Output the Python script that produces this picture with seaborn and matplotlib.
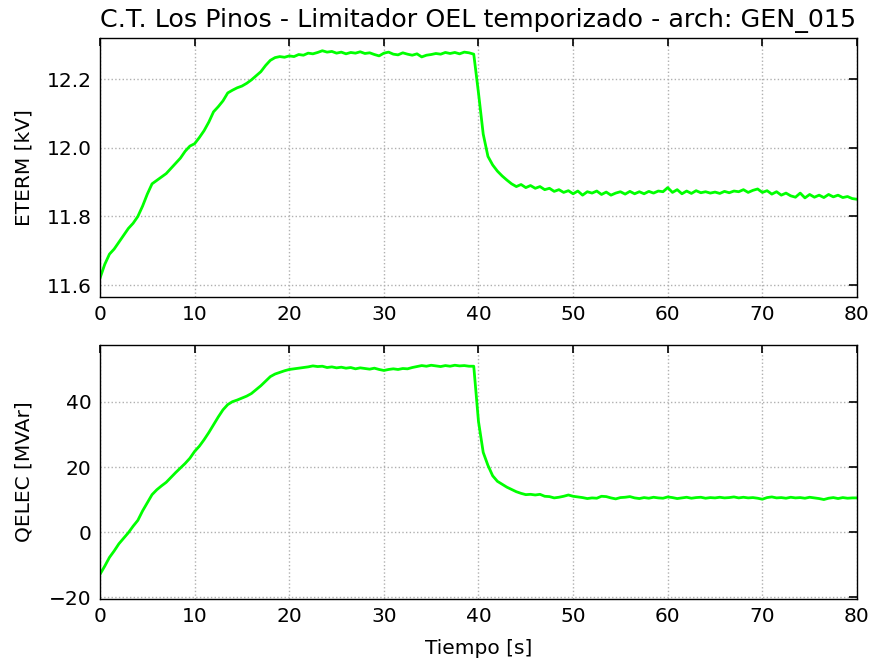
import numpy as np
import pandas as pd
import matplotlib
matplotlib.use("Agg")
import matplotlib.pyplot as plt
import seaborn as sns

# time base (s), 0.5 s sampling
tiempo = [i * 0.5 for i in range(161)]

eterm = [
    11.62, 11.66, 11.69, 11.705, 11.725, 11.745, 11.765, 11.78, 11.80, 11.83,
    11.865, 11.895, 11.905, 11.915, 11.925, 11.94, 11.955, 11.97, 11.99, 12.005,
    12.012, 12.03, 12.05, 12.075, 12.105, 12.12, 12.137, 12.16, 12.168, 12.175,
    12.18, 12.188, 12.198, 12.21, 12.222, 12.24, 12.255, 12.263, 12.266, 12.264,
    12.268, 12.266, 12.272, 12.27, 12.276, 12.274, 12.278, 12.283, 12.279, 12.281,
    12.276, 12.279, 12.274, 12.278, 12.276, 12.28, 12.275, 12.277, 12.272, 12.268,
    12.276, 12.279, 12.273, 12.271, 12.277, 12.273, 12.27, 12.274, 12.265, 12.27,
    12.272, 12.275, 12.273, 12.278, 12.275, 12.278, 12.274, 12.279, 12.277, 12.273,
    12.16, 12.04, 11.975, 11.95, 11.932, 11.918, 11.906, 11.895, 11.887, 11.893,
    11.884, 11.89, 11.882, 11.887, 11.878, 11.882, 11.873, 11.878, 11.87, 11.875,
    11.866, 11.874, 11.862, 11.872, 11.868, 11.874, 11.864, 11.871, 11.862, 11.868,
    11.872, 11.865, 11.873, 11.866, 11.872, 11.866, 11.873, 11.868, 11.874, 11.872,
    11.884, 11.87, 11.878, 11.866, 11.874, 11.867, 11.875, 11.869, 11.872, 11.868,
    11.871, 11.867, 11.873, 11.869, 11.874, 11.872, 11.878, 11.87, 11.876, 11.88,
    11.87, 11.875, 11.865, 11.872, 11.862, 11.868, 11.86, 11.856, 11.868, 11.854,
    11.864, 11.856, 11.862, 11.855, 11.864, 11.857, 11.862, 11.855, 11.858, 11.852,
    11.85,
]

qelec = [
    -13.0, -10.5, -7.8, -5.8, -3.6, -1.9, -0.2, 1.8, 3.6, 6.5,
    9.0, 11.5, 13.0, 14.2, 15.3, 16.8, 18.3, 19.7, 21.1, 22.7,
    24.8, 26.4, 28.4, 30.6, 33.0, 35.4, 37.6, 39.2, 40.1, 40.6,
    41.2, 41.8, 42.6, 43.8, 45.0, 46.4, 47.8, 48.6, 49.1, 49.6,
    50.0, 50.2, 50.4, 50.6, 50.8, 51.1, 50.9, 51.0, 50.6, 50.8,
    50.5, 50.7, 50.4, 50.6, 50.2, 50.5, 50.3, 50.1, 50.4, 50.0,
    49.7, 50.0, 50.2, 50.0, 50.3, 50.2, 50.6, 50.9, 51.2, 51.0,
    51.3, 51.1, 50.9, 51.2, 51.0, 51.3, 51.1, 51.2, 51.0, 51.0,
    34.0, 24.5, 20.5, 17.3, 15.6, 14.7, 13.8, 13.1, 12.4, 11.9,
    11.5, 11.6, 11.4, 11.6, 11.0, 10.9, 10.5, 10.7, 11.0, 11.4,
    11.0, 10.8, 10.6, 10.3, 10.5, 10.4, 11.0, 10.9, 10.5, 10.2,
    10.6, 10.7, 10.9, 10.5, 10.3, 10.6, 10.4, 10.7, 10.5, 10.4,
    10.8, 10.6, 10.3, 10.5, 10.7, 10.4, 10.6, 10.7, 10.4, 10.6,
    10.5, 10.7, 10.5, 10.6, 10.8, 10.5, 10.7, 10.5, 10.6, 10.4,
    10.1, 10.6, 10.8, 10.5, 10.6, 10.4, 10.7, 10.5, 10.6, 10.4,
    10.7, 10.5, 10.3, 10.0, 10.4, 10.6, 10.3, 10.6, 10.4, 10.5,
    10.5,
]

x_ticks = [0, 10, 20, 30, 40, 50, 60, 70, 80]
eterm_ticks = [11.6, 11.8, 12.0, 12.2]
qelec_ticks = [-20, 0, 20, 40]

df = pd.DataFrame({"t": tiempo, "ETERM": eterm, "QELEC": qelec})

sns.set_theme(style="white")
plt.rcParams['font.family'] = ['DejaVu Sans']
plt.rcParams['text.color'] = 'black'
plt.rcParams['axes.labelcolor'] = 'black'

fig = plt.figure(figsize=(8.71, 6.63), dpi=100)
ax1 = fig.add_axes([0.1148, 0.552, 0.8691, 0.3906])
ax2 = fig.add_axes([0.1148, 0.0965, 0.8691, 0.383])

green = "#00ff00"
sns.lineplot(data=df, x="t", y="ETERM", ax=ax1, color=green, linewidth=2)
sns.lineplot(data=df, x="t", y="QELEC", ax=ax2, color=green, linewidth=2)

ax1.set_ylim(11.565, 12.32)
ax2.set_ylim(-20.6, 57.5)
ax1.set_yticks(eterm_ticks)
ax1.set_yticklabels(["11.6", "11.8", "12.0", "12.2"])
ax2.set_yticks(qelec_ticks)

for ax in (ax1, ax2):
    ax.set_xlim(0, 80)
    ax.set_xticks(x_ticks)
    ax.grid(True, linestyle=":", color="#b0b0b0", linewidth=1)
    ax.tick_params(direction="in", top=True, right=True, length=6, width=1.2,
                   labelsize=14.5, colors="black", pad=6)
    for s in ax.spines.values():
        s.set_color("black")
        s.set_linewidth(1.0)

ax1.set_xlabel("")
ax1.set_ylabel("ETERM [kV]", fontsize=14.5)
ax2.set_ylabel("QELEC [MVAr]", fontsize=14.5)
ax2.set_xlabel("Tiempo [s]", fontsize=14.5, labelpad=9)
ax1.yaxis.set_label_coords(-0.088, 0.5)
ax2.yaxis.set_label_coords(-0.088, 0.5)
ax1.set_title("C.T. Los Pinos - Limitador OEL temporizado - arch: GEN_015",
              fontsize=18.3, pad=8)

fig.savefig("out.png", dpi=100)
